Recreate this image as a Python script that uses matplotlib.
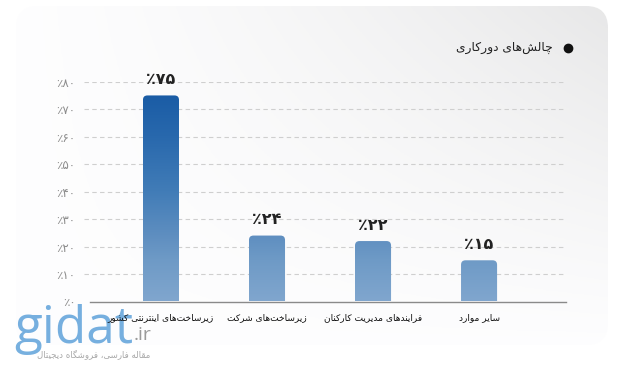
import numpy as np
import matplotlib
matplotlib.use('Agg')
import matplotlib.pyplot as plt
from matplotlib.patches import FancyBboxPatch
from matplotlib.colors import LinearSegmentedColormap

# ---------------- data ----------------
categories = ["زیرساخت‌های اینترنتی کشور", "زیرساخت‌های شرکت",
              "فرایندهای مدیریت کارکنان", "سایر موارد"]
values = [75, 24, 22, 15]
y_ticks = [0, 10, 20, 30, 40, 50, 60, 70, 80]
title = "چالش‌های دورکاری"
wm_sub = "مقاله فارسی، فروشگاه دیجیتال"

# ---------------- minimal Persian shaping ----------------
DUAL = {
    'ب': ('\uFE8F', '\uFE90', '\uFE91', '\uFE92'),
    'ت': ('\uFE95', '\uFE96', '\uFE97', '\uFE98'),
    'ج': ('\uFE9D', '\uFE9E', '\uFE9F', '\uFEA0'),
    'خ': ('\uFEA5', '\uFEA6', '\uFEA7', '\uFEA8'),
    'س': ('\uFEB1', '\uFEB2', '\uFEB3', '\uFEB4'),
    'ش': ('\uFEB5', '\uFEB6', '\uFEB7', '\uFEB8'),
    'ف': ('\uFED1', '\uFED2', '\uFED3', '\uFED4'),
    'ق': ('\uFED5', '\uFED6', '\uFED7', '\uFED8'),
    'ل': ('\uFEDD', '\uFEDE', '\uFEDF', '\uFEE0'),
    'م': ('\uFEE1', '\uFEE2', '\uFEE3', '\uFEE4'),
    'ن': ('\uFEE5', '\uFEE6', '\uFEE7', '\uFEE8'),
    'ه': ('\uFEE9', '\uFEEA', '\uFEEB', '\uFEEC'),
    'چ': ('\uFB7A', '\uFB7B', '\uFB7C', '\uFB7D'),
    'ک': ('\uFB8E', '\uFB8F', '\uFB90', '\uFB91'),
    'گ': ('\uFB92', '\uFB93', '\uFB94', '\uFB95'),
    'ی': ('\uFBFC', '\uFBFD', '\uFBFE', '\uFBFF'),
}
RIGHT = {
    'ا': ('\uFE8D', '\uFE8E'),
    'د': ('\uFEA9', '\uFEAA'),
    'ر': ('\uFEAD', '\uFEAE'),
    'ز': ('\uFEAF', '\uFEB0'),
    'و': ('\uFEED', '\uFEEE'),
}


def shape(s):
    out = []
    n = len(s)
    for i, c in enumerate(s):
        if c not in DUAL and c not in RIGHT:
            out.append(c)
            continue
        prev = s[i - 1] if i > 0 else None
        nxt = s[i + 1] if i < n - 1 else None
        cp = prev in DUAL
        cn = c in DUAL and (nxt in DUAL or nxt in RIGHT)
        if c in DUAL:
            f = DUAL[c]
            out.append(f[3] if (cp and cn) else f[1] if cp else f[2] if cn else f[0])
        else:
            f = RIGHT[c]
            out.append(f[1] if cp else f[0])
    res = ''.join(ch for ch in out if ch != '\u200c')
    return res[::-1]


FA = str.maketrans('0123456789', '۰۱۲۳۴۵۶۷۸۹')


def pct(n):
    return '٪' + str(n).translate(FA)


plt.rcParams['font.family'] = ['DejaVu Sans']

W, H = 641, 367
fig = plt.figure(figsize=(W / 100, H / 100), dpi=100)
fig.patch.set_facecolor('white')

# ---------------- background card ----------------
bg = fig.add_axes([0, 0, 1, 1])
bg.set_xlim(0, W)
bg.set_ylim(H, 0)
bg.axis('off')
cx0, cy0, cx1, cy1 = 16, 6, 608, 345
gx = np.linspace(0, 1, 200)
gy = np.linspace(0, 1, 120)
XX, YY = np.meshgrid(gx, gy)
val = (253.5 - 22 * (XX ** 1.4) * (1 - YY) ** 1.1) / 255.0
img = np.dstack([val, val, val * 1.003])
img = np.clip(img, 0, 1)
im_bg = bg.imshow(img, extent=(cx0, cx1, cy1, cy0), aspect='auto', zorder=0)
card = FancyBboxPatch((cx0, cy0), cx1 - cx0, cy1 - cy0,
                      boxstyle="round,pad=0,rounding_size=22",
                      transform=bg.transData, facecolor='none', edgecolor='none')
im_bg.set_clip_path(card)
bg.set_xlim(0, W)
bg.set_ylim(H, 0)

# watermark
bg.text(14, 343, 'gidat', fontsize=37, color='#5fa2da', family='Open Sans',
        alpha=0.85, va='baseline', ha='left', zorder=2)
bg.text(134, 340, '.ir', fontsize=14, color='#9a9a9a', family='Open Sans',
        va='baseline', ha='left', zorder=2)
bg.text(150, 354, shape(wm_sub), fontsize=6.2, color='#a8a8a8',
        va='center', ha='right', zorder=2)

# title
bg.text(553, 48, shape(title), fontsize=8.8, color='#222222',
        ha='right', va='center', zorder=3)
bg.plot([568], [48], marker='o', markersize=6, color='#111111', zorder=3)

# ---------------- main axes ----------------
ax_l, ax_r = 84, 566
ax_t, ax_b = 81.7, 301.5
ax = fig.add_axes([ax_l / W, (H - ax_b) / H, (ax_r - ax_l) / W, (ax_b - ax_t) / H])
ax.patch.set_alpha(0)

x = np.arange(len(categories))
xmin, xmax = -0.726, 3.82
bw = 0.34

cmap = LinearSegmentedColormap.from_list('bars', [
    (0.0, '#80a6ce'), (15 / 75, '#6e9ac6'), (24 / 75, '#5e8ec0'),
    (40 / 75, '#417cb7'), (60 / 75, '#2868ad'), (1.0, '#1a5ca5')])

bars = ax.bar(x, values, width=bw, color='none', edgecolor='none', zorder=3)
px_per_x = (ax_r - ax_l) / (xmax - xmin)
px_per_y = (ax_b - ax_t) / 80.0
r = 4.5 / px_per_x
m = px_per_x / px_per_y
for b, v in zip(bars, values):
    xl = b.get_x()
    w = b.get_width()
    grad = np.linspace(0, v, 256).reshape(-1, 1)
    im = ax.imshow(grad, extent=(xl, xl + w, 0, v), origin='lower', aspect='auto',
                   cmap=cmap, vmin=0, vmax=75, zorder=3)
    clip = FancyBboxPatch((xl, -6), w, v + 6,
                          boxstyle=f"round,pad=0,rounding_size={r}",
                          mutation_aspect=m, transform=ax.transData,
                          facecolor='none', edgecolor='none')
    im.set_clip_path(clip)
    ax.annotate(pct(v), (b.get_x() + w / 2, v), xytext=(0, 6),
                textcoords='offset points', ha='center', va='bottom',
                fontsize=11.5, fontweight='bold', color='#222222', zorder=5)

ax.set_xlim(xmin, xmax)
ax.set_ylim(0, 80)

ax.set_yticks(y_ticks)
ax.set_yticklabels([pct(t) for t in y_ticks], fontsize=8.6, color='#8c8c8c')
ax.set_xticks(x)
ax.set_xticklabels([shape(c) for c in categories], fontsize=6.5, color='#111111')
ax.tick_params(axis='both', length=0)
ax.tick_params(axis='y', pad=6)
ax.tick_params(axis='x', pad=8)

for y in y_ticks[1:]:
    ax.axhline(y, color='#cfcfcf', linewidth=0.8, linestyle=(0, (4, 3)), zorder=1)

for s in ['top', 'right', 'left']:
    ax.spines[s].set_visible(False)
ax.spines['bottom'].set_color('#8a8a8a')
ax.spines['bottom'].set_linewidth(1.0)
ax.spines['bottom'].set_bounds(xmin + 6 / px_per_x, xmax)
ax.spines['bottom'].set_zorder(4)

fig.savefig('out.png', dpi=100)
